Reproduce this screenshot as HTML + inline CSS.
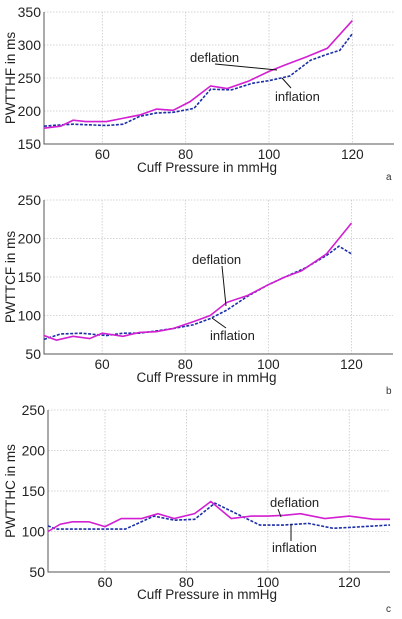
<!DOCTYPE html>
<html><head><meta charset="utf-8"><style>
body{margin:0;background:#fff;width:402px;height:619px;overflow:hidden}
svg{display:block;font-family:"Liberation Sans",sans-serif}
</style></head><body>
<svg id="s" width="402" height="619"></svg>
<script>
// panel a
const aDefX=[46,50,53,56,61,65,69,73,77,81,86,90,95,100,104,109,114,120];
const aDefY=[174,177,186,184,184,189,194,203,201,214,238,234,245,260,270,282,295,337];
const aInfX=[46,50,53,61,65,69,73,77,82,86,91,96,100,105,110,114,117,120];
const aInfY=[177,179,180,178,180,192,197,198,204,233,232,242,246,253,277,286,292,317];
// panel b
const bDefX=[46,49,53,57,60,65,69,73,77,82,86,90,95,100,104,108,114,120];
const bDefY=[74,68,73,70,77,73,78,79,83,92,100,117,126,140,150,158,180,220];
const bInfX=[46,50,55,61,65,69,73,77,82,86,90,95,100,104,109,114,117,120];
const bInfY=[69,76,77,74,77,77,80,83,88,96,107,125,140,150,162,178,190,180];
// panel c
const cDefX=[46,49,52,56,60,64,69,73,77,82,86,91,96,100,104,108,114,120,126,130];
const cDefY=[100,109,112,112,106,116,116,122,116,122,137,116,119,119,120,122,116,119,115,115];
const cInfX=[46,48,56,65,72,77,82,87,98,104,110,116,120,130];
const cInfY=[107,103,103,103,119,114,115,135,108,108,110,104,105,108];
const xTicks=[60,80,100,120];
const aYTicks=[150,200,250,300,350];
const bYTicks=[50,100,150,200,250];
const cYTicks=[50,100,150,200,250];

const svg=document.getElementById('s');
const NS='http://www.w3.org/2000/svg';
function mk(t,a,p){const e=document.createElementNS(NS,t);for(const k in a)e.setAttribute(k,a[k]);(p||svg).appendChild(e);return e;}

const panels=[
 {id:'a',L:44,R:394,T:12,B:144,x0:46,x1:130,y0:150,y1:350,yt:aYTicks,ylab:'PWTTHF in ms',dx:aDefX,dy:aDefY,ix:aInfX,iy:aInfY,xt:172,lt:180,
  ann:[['deflation',190,62,215,64,277,70],['inflation',275,101,282,78,291,88]]},
 {id:'b',L:44,R:393,T:200,B:354,x0:46,x1:130,y0:50,y1:250,yt:bYTicks,ylab:'PWTTCF in ms',dx:bDefX,dy:bDefY,ix:bInfX,iy:bInfY,xt:382,lt:394,
  ann:[['deflation',192,264,222,266,226,306],['inflation',210,340,212,318,226,328]]},
 {id:'c',L:48,R:390,T:410,B:572,x0:46,x1:130,y0:50,y1:250,yt:cYTicks,ylab:'PWTTHC in ms',dx:cDefX,dy:cDefY,ix:cInfX,iy:cInfY,xt:599,lt:612,
  ann:[['deflation',270,507,278,509,281,517],['inflation',272,552,291,524,291,541]]}
];
panels.forEach(p=>{
 const g=mk('g',{});
 
 
 const sx=v=>p.L+(v-p.x0)/(p.x1-p.x0)*(p.R-p.L);
 const sy=v=>p.B-(v-p.y0)/(p.y1-p.y0)*(p.B-p.T);
 xTicks.forEach(t=>{
  const l=mk('line',{x1:sx(t),x2:sx(t),y1:p.T,y2:p.B,stroke:'#c8c8c8','stroke-width':0.8,'stroke-dasharray':'1.5,1.5'},g);
  
  
  const tx=mk('text',{x:sx(t),y:p.B+15,'font-size':13.5,'text-anchor':'middle',fill:'#222'},g);tx.textContent=t;
  
  
 });
 p.yt.forEach(t=>{
  if(t!==p.y0){const l=mk('line',{x1:p.L,x2:p.R,y1:sy(t),y2:sy(t),stroke:'#c8c8c8','stroke-width':0.8,'stroke-dasharray':'1.5,1.5'},g);
  
  }
  const tx=mk('text',{x:p.L-3,y:sy(t)+5,'font-size':14,'text-anchor':'end',fill:'#222'},g);tx.textContent=t;
  
  
 });
 const ax=mk('path',{d:`M${p.L},${p.T}V${p.B}H${p.R}`,fill:'none',stroke:'#555','stroke-width':1},g);
 
 
 const inf=mk('polyline',{points:p.ix.map((x,i)=>sx(x)+','+sy(p.iy[i])).join(' '),fill:'none',stroke:'#1c2fa8','stroke-width':1.6,'stroke-dasharray':'3,1.5'},g);
 
 
 const def=mk('polyline',{points:p.dx.map((x,i)=>sx(x)+','+sy(p.dy[i])).join(' '),fill:'none',stroke:'#d21fd2','stroke-width':1.6},g);
 
 
 p.ann.forEach(a=>{
  const t=mk('text',{x:a[1],y:a[2],'font-size':13,fill:'#222'},g);t.textContent=a[0];
  
  
  const l=mk('line',{x1:a[3],y1:a[4],x2:a[5],y2:a[6],stroke:'#111','stroke-width':1},g);
  
  
 });
 const xl=mk('text',{x:(p.L+p.R)/2-12,y:p.xt,'font-size':13.5,'text-anchor':'middle',fill:'#222'},g);xl.textContent='Cuff Pressure in mmHg';
 
 
 const yl=mk('text',{x:0,y:0,'font-size':13.5,'text-anchor':'middle',fill:'#222',transform:`translate(15,${(p.T+p.B)/2}) rotate(-90)`},g);yl.textContent=p.ylab;
 
 
 const pl=mk('text',{x:386,y:p.lt,'font-size':10,fill:'#333'},g);pl.textContent=p.id;
 
 
});
</script>
</body></html>
